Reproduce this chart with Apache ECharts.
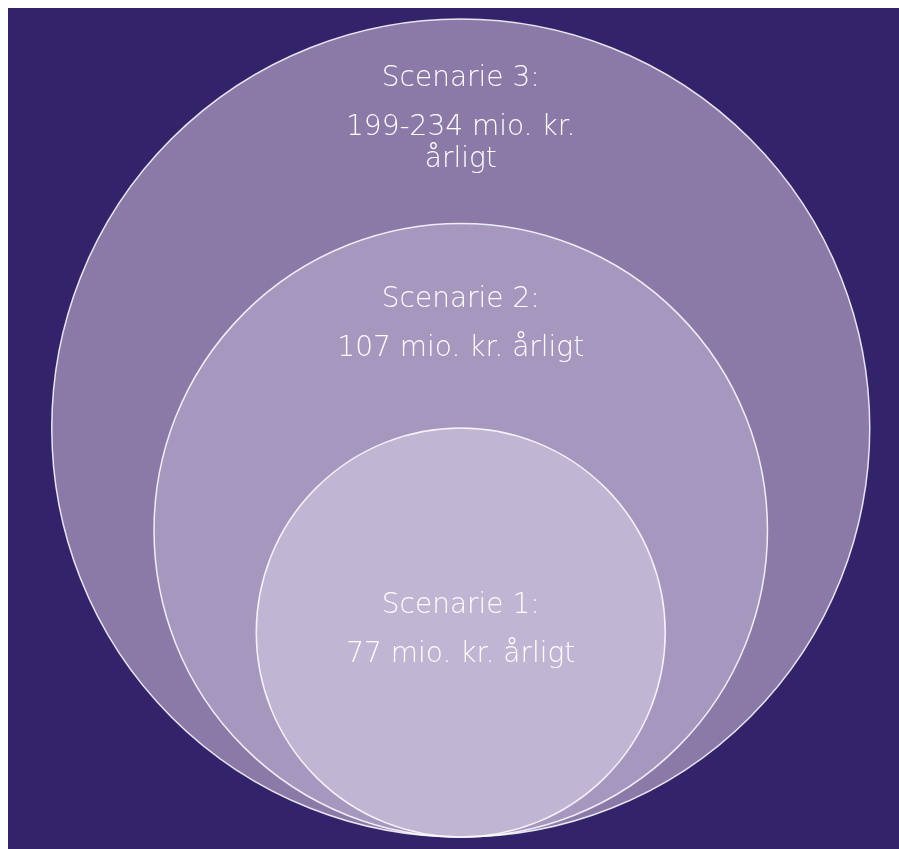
<!DOCTYPE html>
<html><head><meta charset="utf-8">
<script src="https://cdn.jsdelivr.net/npm/echarts@6/dist/echarts.min.js"></script>
<style>html,body{margin:0;padding:0;background:#fff}#c{position:absolute;left:0;top:0;width:899px;height:849px}</style>
</head><body><div id="c"></div>
<script>
// Data (largest to smallest circle)
const scenarioTitles = ['Scenarie 3:', 'Scenarie 2:', 'Scenarie 1:'];
const scenarioAmounts = ['199-234 mio. kr.\nårligt', '107 mio. kr. årligt', '77 mio. kr. årligt'];
const circleRadius = [2, 1.5, 1];   // relative circle sizes
const circleColors = ['#8b7aa8', '#a697bf', '#c0b5d3'];

const chart = echarts.init(document.getElementById('c'), null, {renderer: 'canvas'});
const data = circleRadius.map((r, i) => [0, r, r, i]);

chart.setOption({
  backgroundColor: 'transparent',
  animation: false,
  graphic: [{type: 'rect', z: -10, shape: {x: 8, y: 8, width: 891, height: 841}, style: {fill: '#33236a'}}],
  grid: {left: 51.75, top: 19, width: 818, height: 818},
  xAxis: {type: 'value', min: -2, max: 2, show: false},
  yAxis: {type: 'value', min: 0, max: 4, show: false},
  series: [{
    type: 'custom',
    coordinateSystem: 'cartesian2d',
    data: data,
    renderItem: function (params, api) {
      const i = api.value(3);
      const r = api.value(2);
      const c = api.coord([api.value(0), api.value(1)]);
      const rp = api.size([r, r])[0];
      const topY = api.coord([0, 2 * r])[1];
      const next = circleRadius[i + 1];
      const bandBottom = next !== undefined ? api.coord([0, 2 * next])[1] : api.coord([0, 0])[1];
      const bandCenter = next !== undefined ? (topY + bandBottom) / 2 : c[1];
      const lines = scenarioAmounts[i].split('\n').length;
      const gap = 49, lh = 32;
      const total = gap + lh * (lines - 1);
      const cy = bandCenter - 2;
      const titleY = cy - total / 2;
      const font = '200 28px "DejaVu Sans", sans-serif';
      return {
        type: 'group',
        children: [
          {type: 'circle', shape: {cx: c[0], cy: c[1], r: rp},
           style: {fill: circleColors[i], stroke: 'rgba(255,255,255,0.85)', lineWidth: 1.5}},
          {type: 'text', x: c[0], y: titleY,
           style: {text: scenarioTitles[i], fill: '#ffffff', font: font, textAlign: 'center', textVerticalAlign: 'middle'}},
          {type: 'text', x: c[0], y: titleY + gap - lh / 2,
           style: {text: scenarioAmounts[i], fill: '#ffffff', font: font, textAlign: 'center', textVerticalAlign: 'top', lineHeight: lh}}
        ]
      };
    }
  }]
});
</script></body></html>
